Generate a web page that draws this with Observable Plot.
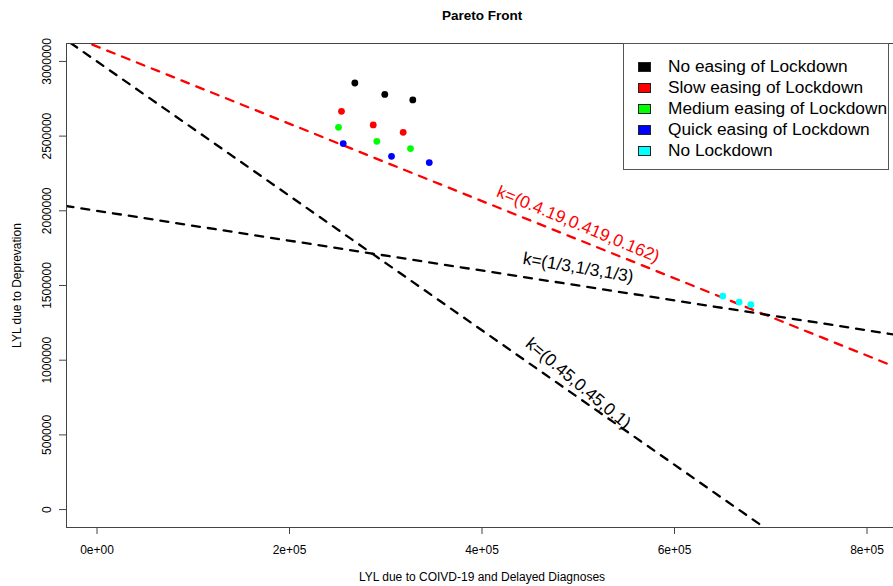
<!DOCTYPE html>
<html>
<head>
<meta charset="utf-8">
<script src="https://cdn.jsdelivr.net/npm/d3@7"></script>
<script src="https://cdn.jsdelivr.net/npm/@observablehq/plot@0.6"></script>
<style>
  html, body { margin: 0; padding: 0; background: #fff; overflow: hidden; }
  #wrap { position: relative; width: 893px; height: 586px; font-family: "Liberation Sans", Arial, Helvetica, sans-serif; }
  #legend { position: absolute; left: 623px; top: 43px; width: 266px; height: 127px; border: 1px solid #555; background: #fff; box-sizing: border-box; }
  .row { position: absolute; left: 0; height: 21px; display: flex; align-items: center; }
  .sw { position: absolute; left: 14px; width: 13px; height: 10px; border: 1px solid #222; box-sizing: border-box; }
  .lab { position: absolute; left: 44px; font-size: 17.3px; white-space: nowrap; color: #000; line-height: 21px; }
</style>
</head>
<body>
<div id="wrap"></div>
<script>
// ---- data ----
const titleText = "Pareto Front";
const xTitle = "LYL due to COIVD-19 and Delayed Diagnoses";
const yTitle = "LYL due to Deprevation";

const xTicks = [0, 200000, 400000, 600000, 800000];
const xTickLabels = ["0e+00", "2e+05", "4e+05", "6e+05", "8e+05"];
const yTicks = [0, 500000, 1000000, 1500000, 2000000, 2500000, 3000000];
const yTickLabels = ["0", "500000", "1000000", "1500000", "2000000", "2500000", "3000000"];

const groups = ["No easing of Lockdown", "Slow easing of Lockdown", "Medium easing of Lockdown", "Quick easing of Lockdown", "No Lockdown"];
const groupColors = ["#000000", "#FF0000", "#00FF00", "#0000FF", "#00FFFF"];

const noEasingX = [267900, 299000, 328100];
const noEasingY = [2855600, 2779400, 2742000];
const slowX = [254000, 287000, 318100];
const slowY = [2665800, 2574900, 2525400];
const mediumX = [250900, 290700, 325700];
const mediumY = [2558800, 2465200, 2416400];
const quickX = [255800, 306000, 345200];
const quickY = [2449900, 2365000, 2322900];
const noLockX = [650200, 667200, 679300];
const noLockY = [1429100, 1389000, 1371700];

const lineLabels = ["k=(0.4.19,0.419,0.162)", "k=(1/3,1/3,1/3)", "k=(0.45,0.45,0.1)"];
const lineIntercepts = [3100000, 2000000, 3000000];
const lineSlopes = [-0.419 / 0.162, -1, -4.5];
const lineColors = ["#FF0000", "#000000", "#000000"];
const labelX = [500000, 500000, 500000];
const labelY = [1910000, 1620000, 845000];
const labelAngles = [22.5, 9.5, 40];

const xDomain = [-32000, 832000];
const yDomain = [-120000, 3120000];

// ---- build tables ----
const seriesX = [noEasingX, slowX, mediumX, quickX, noLockX];
const seriesY = [noEasingY, slowY, mediumY, quickY, noLockY];
const points = [];
groups.forEach((g, gi) => seriesX[gi].forEach((x, i) => points.push({group: g, x, y: seriesY[gi][i], color: groupColors[gi]})));

const ablines = lineIntercepts.map((a, i) => [xDomain[0] - 50000, xDomain[1] + 50000].map(x => ({id: i, x, y: a + lineSlopes[i] * x})));
const labels = lineLabels.map((t, i) => ({text: t, x: labelX[i], y: labelY[i], angle: labelAngles[i], color: lineColors[i]}));

const font = "'Liberation Sans', Arial, Helvetica, sans-serif";

const marks = [];
ablines.forEach((seg, i) => marks.push(Plot.line(seg, {x: "x", y: "y", stroke: lineColors[i], strokeWidth: 2.3, strokeDasharray: "8,8", clip: true})));
marks.push(Plot.dot(points, {x: "x", y: "y", fill: "color", r: 3.4, stroke: null}));
labels.forEach(l => marks.push(Plot.text([l], {x: "x", y: "y", text: "text", rotate: l.angle, fill: l.color, fontSize: 17.3})));
marks.push(Plot.frame({anchor: "left", stroke: "#444"}));
marks.push(Plot.frame({anchor: "top", stroke: "#444"}));
marks.push(Plot.frame({anchor: "bottom", stroke: "#444"}));
marks.push(Plot.axisX(xTicks, {tickSize: 7, tickPadding: 11, fontSize: 12, label: null, stroke: "#444", tickFormat: d => xTickLabels[xTicks.indexOf(d)]}));
marks.push(Plot.axisY(yTicks, {tickSize: 7, fontSize: 12, label: null, stroke: "#444", tickFormat: () => ""}));
marks.push(Plot.text(yTicks, {y: d => d, text: (d, i) => yTickLabels[i], frameAnchor: "left", dx: -19.5, rotate: -90, fontSize: 12, textAnchor: "middle", lineAnchor: "middle"}));
marks.push(Plot.text([titleText], {frameAnchor: "top", dy: -28, dx: 2, fontSize: 13.5, fontWeight: "bold", text: d => d, textAnchor: "middle", lineAnchor: "middle"}));
marks.push(Plot.text([xTitle], {frameAnchor: "bottom", dy: 50, dx: 2, fontSize: 12, text: d => d, textAnchor: "middle", lineAnchor: "middle"}));
marks.push(Plot.text([yTitle], {frameAnchor: "left", dx: -49, rotate: -90, fontSize: 12, text: d => d, textAnchor: "middle", lineAnchor: "middle"}));

const chart = Plot.plot({
  width: 893,
  height: 586,
  marginLeft: 66,
  marginRight: 0,
  marginTop: 43,
  marginBottom: 59,
  style: {fontFamily: font, background: "#fff", color: "#000", overflow: "hidden"},
  x: {domain: xDomain, range: [65.7, 897.3]},
  y: {domain: yDomain, range: [527, 43]},
  marks
});

const wrap = document.getElementById("wrap");
wrap.appendChild(chart);

// legend
const legend = document.createElement("div");
legend.id = "legend";
groups.forEach((g, i) => {
  const row = document.createElement("div");
  row.className = "row";
  row.style.top = (12 + i * 21) + "px";
  row.style.width = "100%";
  const sw = document.createElement("div");
  sw.className = "sw";
  sw.style.background = groupColors[i];
  const lab = document.createElement("div");
  lab.className = "lab";
  lab.textContent = g;
  row.appendChild(sw);
  row.appendChild(lab);
  legend.appendChild(row);
});
wrap.appendChild(legend);
</script>
</body>
</html>
